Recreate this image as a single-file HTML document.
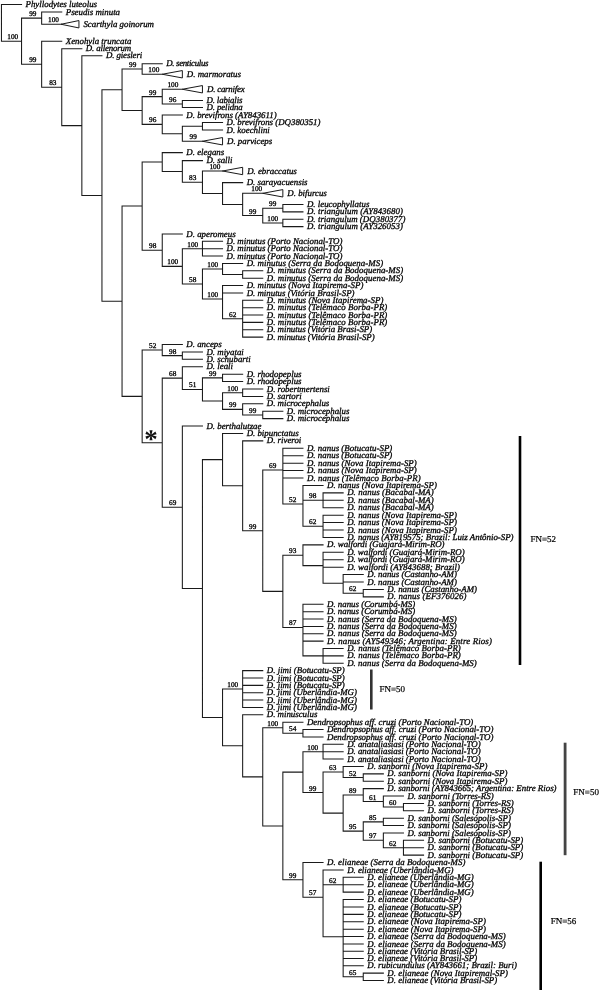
<!DOCTYPE html>
<html lang="en"><head><meta charset="utf-8"><title>Dendropsophus phylogeny</title>
<style>html,body{margin:0;padding:0;background:#fff}svg{display:block}text{text-rendering:geometricPrecision}.sp{font-family:"Liberation Serif","DejaVu Serif",serif;font-style:italic;font-size:8.85px;fill:#000;stroke:#000;stroke-width:.3px}.bs{font-family:"Liberation Serif","DejaVu Serif",serif;font-size:7.3px;fill:#000;stroke:#000;stroke-width:.3px;text-anchor:middle}.fn{font-family:"Liberation Serif","DejaVu Serif",serif;font-size:9px;fill:#000;stroke:#000;stroke-width:.2px}.ln{stroke:#1a1a1a;stroke-width:1.05;fill:none;stroke-linecap:square}.tr{stroke:#1a1a1a;stroke-width:1;fill:#fff;stroke-linejoin:miter}.ast{font-family:"Liberation Serif","DejaVu Serif",serif;font-weight:bold;font-size:27px;fill:#111}</style></head><body>
<svg width="600" height="990" viewBox="0 0 600 990">
<rect width="600" height="990" fill="#fff"/>
<path class="ln" d="M1.45 4.5L1.45 41.17M1.45 4.5L21.55 4.5M1.45 41.17L21.55 41.17M21.55 18.12L21.55 64.22M21.55 18.12L41.65 18.12M41.65 12L41.65 24.25M41.65 12L61.75 12M41.65 24.25L61.75 24.25M21.55 64.22L41.65 64.22M41.65 41.25L41.65 87.19M41.65 41.25L61.75 41.25M41.65 87.19L61.75 87.19M61.75 48.75L61.75 125.62M61.75 48.75L81.85 48.75M61.75 125.62L81.85 125.62M81.85 55.75L81.85 195.49M81.85 55.75L101.95 55.75M81.85 195.49L101.95 195.49M101.95 89.75L101.95 301.23M101.95 89.75L122.05 89.75M122.05 69L122.05 110.5M122.05 69L142.15 69M142.15 63.75L142.15 74.25M142.15 63.75L162.25 63.75M142.15 74.25L162.25 74.25M122.05 110.5L142.15 110.5M142.15 96.62L142.15 124.38M142.15 96.62L162.25 96.62M162.25 89.25L162.25 104M162.25 89.25L182.35 89.25M162.25 104L182.35 104M182.35 100.5L182.35 107.5M182.35 100.5L202.45 100.5M182.35 107.5L202.45 107.5M142.15 124.38L162.25 124.38M162.25 115L162.25 133.75M162.25 115L182.35 115M162.25 133.75L182.35 133.75M182.35 126.25L182.35 141.25M182.35 126.25L202.45 126.25M202.45 122.5L202.45 130M202.45 122.5L222.55 122.5M202.45 130L222.55 130M182.35 141.25L202.45 141.25M101.95 301.23L122.05 301.23M122.05 206.09L122.05 396.38M122.05 206.09L142.15 206.09M142.15 162.01L142.15 250.17M142.15 162.01L162.25 162.01M162.25 152.6L162.25 171.43M162.25 152.6L182.35 152.6M162.25 171.43L182.35 171.43M182.35 160.6L182.35 182.26M182.35 160.6L202.45 160.6M182.35 182.26L202.45 182.26M202.45 171L202.45 193.51M202.45 171L222.55 171M202.45 193.51L222.55 193.51M222.55 182.6L222.55 204.43M222.55 182.6L242.65 182.6M222.55 204.43L242.65 204.43M242.65 193.3L242.65 215.55M242.65 193.3L262.75 193.3M242.65 215.55L262.75 215.55M262.75 208.18L262.75 222.92M262.75 208.18L282.85 208.18M282.85 204.5L282.85 211.87M282.85 204.5L302.95 204.5M282.85 211.87L302.95 211.87M262.75 222.92L282.85 222.92M282.85 219.24L282.85 226.61M282.85 219.24L302.95 219.24M282.85 226.61L302.95 226.61M142.15 250.17L162.25 250.17M162.25 233.97L162.25 266.36M162.25 233.97L182.35 233.97M162.25 266.36L182.35 266.36M182.35 248.71L182.35 284.02M182.35 248.71L202.45 248.71M202.45 241.34L202.45 256.08M202.45 241.34L222.55 241.34M202.45 248.71L222.55 248.71M202.45 256.08L222.55 256.08M182.35 284.02L202.45 284.02M202.45 268.97L202.45 299.06M202.45 268.97L222.55 268.97M222.55 263.45L222.55 274.5M222.55 263.45L242.65 263.45M222.55 274.5L242.65 274.5M242.65 270.82L242.65 278.18M242.65 270.82L262.75 270.82M242.65 278.18L262.75 278.18M202.45 299.06L222.55 299.06M222.55 285.55L222.55 318.71M222.55 285.55L242.65 285.55M222.55 292.92L242.65 292.92M222.55 318.71L242.65 318.71M242.65 300.29L242.65 337.13M242.65 300.29L262.75 300.29M242.65 307.66L262.75 307.66M242.65 315.03L262.75 315.03M242.65 322.39L262.75 322.39M242.65 329.76L262.75 329.76M242.65 337.13L262.75 337.13M122.05 396.38L142.15 396.38M142.15 350.06L142.15 442.69M142.15 350.06L162.25 350.06M162.25 344.5L162.25 355.62M162.25 344.5L182.35 344.5M162.25 355.62L182.35 355.62M182.35 351.91L182.35 359.33M182.35 351.91L202.45 351.91M182.35 359.33L202.45 359.33M142.15 442.69L162.25 442.69M162.25 378.1L162.25 507.29M162.25 378.1L182.35 378.1M182.35 366.74L182.35 389.45M182.35 366.74L202.45 366.74M182.35 389.45L202.45 389.45M202.45 377.86L202.45 401.03M202.45 377.86L222.55 377.86M222.55 374.16L222.55 381.57M222.55 374.16L242.65 374.16M222.55 381.57L242.65 381.57M202.45 401.03L222.55 401.03M222.55 392.69L222.55 409.38M222.55 392.69L242.65 392.69M242.65 388.99L242.65 396.4M242.65 388.99L262.75 388.99M242.65 396.4L262.75 396.4M222.55 409.38L242.65 409.38M242.65 403.81L242.65 414.94M242.65 403.81L262.75 403.81M242.65 414.94L262.75 414.94M262.75 411.23L262.75 418.64M262.75 411.23L282.85 411.23M262.75 418.64L282.85 418.64M162.25 507.29L182.35 507.29M182.35 426.06L182.35 588.53M182.35 426.06L202.45 426.06M182.35 588.53L202.45 588.53M202.45 459.62L202.45 717.44M202.45 459.62L222.55 459.62M222.55 433.47L222.55 485.77M222.55 433.47L242.65 433.47M222.55 485.77L242.65 485.77M242.65 440.89L242.65 530.66M242.65 440.89L262.75 440.89M242.65 530.66L262.75 530.66M262.75 469.97L262.75 591.35M262.75 469.97L282.85 469.97M282.85 448.3L282.85 504.01M282.85 448.3L302.95 448.3M282.85 455.73L302.95 455.73M282.85 463.16L302.95 463.16M282.85 470.59L302.95 470.59M282.85 478.01L302.95 478.01M282.85 504.01L302.95 504.01M302.95 485.44L302.95 526.3M302.95 485.44L323.05 485.44M302.95 500.3L323.05 500.3M323.05 492.87L323.05 507.73M323.05 492.87L343.15 492.87M323.05 500.3L343.15 500.3M323.05 507.73L343.15 507.73M302.95 526.3L323.05 526.3M323.05 515.16L323.05 537.44M323.05 515.16L343.15 515.16M323.05 522.59L343.15 522.59M323.05 530.01L343.15 530.01M323.05 537.44L343.15 537.44M262.75 591.35L282.85 591.35M282.85 555.24L282.85 627.46M282.85 555.24L302.95 555.24M302.95 544.87L302.95 565.61M302.95 544.87L323.05 544.87M302.95 565.61L323.05 565.61M323.05 552.3L323.05 583.25M323.05 552.3L343.15 552.3M323.05 559.73L343.15 559.73M323.05 567.16L343.15 567.16M323.05 583.25L343.15 583.25M343.15 574.59L343.15 593.16M343.15 574.59L363.25 574.59M343.15 582.01L363.25 582.01M343.15 593.16L363.25 593.16M363.25 589.44L363.25 596.87M363.25 589.44L383.35 589.44M363.25 596.87L383.35 596.87M282.85 627.46L302.95 627.46M302.95 604.3L302.95 655.88M302.95 604.3L323.05 604.3M302.95 611.67L323.05 611.67M302.95 619.04L323.05 619.04M302.95 626.41L323.05 626.41M302.95 633.77L323.05 633.77M302.95 641.14L323.05 641.14M302.95 655.88L323.05 655.88M323.05 648.51L323.05 663.25M323.05 648.51L343.15 648.51M323.05 655.88L343.15 655.88M323.05 663.25L343.15 663.25M202.45 717.44L222.55 717.44M222.55 689.04L222.55 745.84M222.55 689.04L242.65 689.04M242.65 670.62L242.65 707.46M242.65 670.62L262.75 670.62M242.65 677.98L262.75 677.98M242.65 685.35L262.75 685.35M242.65 692.72L262.75 692.72M242.65 700.09L262.75 700.09M242.65 707.46L262.75 707.46M222.55 745.84L242.65 745.84M242.65 714.83L242.65 776.85M242.65 714.83L262.75 714.83M242.65 776.85L262.75 776.85M262.75 727.72L262.75 825.97M262.75 727.72L282.85 727.72M282.85 722.19L282.85 733.25M282.85 722.19L302.95 722.19M282.85 733.25L302.95 733.25M302.95 729.56L302.95 736.93M302.95 729.56L323.05 729.56M302.95 736.93L323.05 736.93M262.75 825.97L282.85 825.97M282.85 772.12L282.85 879.82M282.85 772.12L302.95 772.12M302.95 751.69L302.95 792.55M302.95 751.69L323.05 751.69M323.05 744.3L323.05 759.07M323.05 744.3L343.15 744.3M323.05 751.69L343.15 751.69M323.05 759.07L343.15 759.07M302.95 792.55L323.05 792.55M323.05 772L323.05 813.1M323.05 772L343.15 772M343.15 766.46L343.15 777.54M343.15 766.46L363.25 766.46M343.15 777.54L363.25 777.54M363.25 773.85L363.25 781.24M363.25 773.85L383.35 773.85M363.25 781.24L383.35 781.24M323.05 813.1L343.15 813.1M343.15 795.09L343.15 831.1M343.15 795.09L363.25 795.09M363.25 788.62L363.25 801.55M363.25 788.62L383.35 788.62M363.25 801.55L383.35 801.55M383.35 796.01L383.35 807.09M383.35 796.01L403.45 796.01M383.35 807.09L403.45 807.09M403.45 803.4L403.45 810.79M403.45 803.4L423.55 803.4M403.45 810.79L423.55 810.79M343.15 831.1L363.25 831.1M363.25 821.87L363.25 840.34M363.25 821.87L383.35 821.87M383.35 818.17L383.35 825.56M383.35 818.17L403.45 818.17M383.35 825.56L403.45 825.56M363.25 840.34L383.35 840.34M383.35 832.95L383.35 847.73M383.35 832.95L403.45 832.95M383.35 847.73L403.45 847.73M403.45 840.34L403.45 855.11M403.45 840.34L423.55 840.34M403.45 847.73L423.55 847.73M403.45 855.11L423.55 855.11M282.85 879.82L302.95 879.82M302.95 862.5L302.95 897.15M302.95 862.5L323.05 862.5M302.95 897.15L323.05 897.15M323.05 869.91L323.05 936.8M323.05 869.91L343.15 869.91M323.05 884.73L343.15 884.73M343.15 877.32L343.15 892.14M343.15 877.32L363.25 877.32M343.15 884.73L363.25 884.73M343.15 892.14L363.25 892.14M323.05 936.8L343.15 936.8M343.15 899.55L343.15 976.76M343.15 899.55L363.25 899.55M343.15 906.95L363.25 906.95M343.15 914.36L363.25 914.36M343.15 921.77L363.25 921.77M343.15 929.18L363.25 929.18M343.15 936.59L363.25 936.59M343.15 944L363.25 944M343.15 951.28L363.25 951.28M343.15 958.56L363.25 958.56M343.15 965.84L363.25 965.84M343.15 976.76L363.25 976.76M363.25 973.12L363.25 980.4M363.25 973.12L383.35 973.12M363.25 980.4L383.35 980.4"/>
<path class="tr" d="M61.05 24.25L78.95 20.55L78.95 27.95Z"/>
<path class="tr" d="M162.25 74.25L182.35 70.55L182.35 77.95Z"/>
<path class="tr" d="M182.35 89.25L202.45 85.55L202.45 92.95Z"/>
<path class="tr" d="M202.45 141.25L222.55 137.55L222.55 144.95Z"/>
<path class="tr" d="M222.55 171L242.65 167.3L242.65 174.7Z"/>
<path class="tr" d="M262.75 193.3L282.85 189.6L282.85 197Z"/>
<rect x="518.7" y="436" width="2.6" height="229" fill="#000"/>
<rect x="370" y="669.5" width="2.6" height="40" fill="#333"/>
<rect x="563.7" y="742.7" width="2.8" height="112.5" fill="#444"/>
<rect x="539.4" y="861.7" width="2.6" height="128.3" fill="#000"/>
<text class="fn" x="530.5" y="541.7">FN=52</text>
<text class="fn" x="379.5" y="692">FN=50</text>
<text class="fn" x="573.3" y="795">FN=50</text>
<text class="fn" x="550.7" y="924">FN=56</text>
<text class="bs" x="12.79" y="39.17">100</text>
<text class="bs" x="32.79" y="16.12">99</text>
<text class="bs" x="53.55" y="22.35">100</text>
<text class="bs" x="32.79" y="62.22">99</text>
<text class="bs" x="52.79" y="85.19">83</text>
<text class="bs" x="132.76" y="67">99</text>
<text class="bs" x="153.85" y="72.35">100</text>
<text class="bs" x="152.76" y="94.62">99</text>
<text class="bs" x="172.95" y="87.35">100</text>
<text class="bs" x="172.75" y="102">96</text>
<text class="bs" x="152.76" y="122.38">96</text>
<text class="bs" x="193.25" y="139.35">99</text>
<text class="bs" x="192.75" y="180.26">83</text>
<text class="bs" x="214.95" y="169.1">100</text>
<text class="bs" x="256.75" y="191.4">100</text>
<text class="bs" x="252.73" y="213.55">99</text>
<text class="bs" x="272.73" y="206.18">99</text>
<text class="bs" x="272.73" y="220.92">100</text>
<text class="bs" x="152.76" y="248.17">98</text>
<text class="bs" x="172.75" y="264.36">100</text>
<text class="bs" x="192.75" y="246.71">100</text>
<text class="bs" x="192.75" y="282.02">58</text>
<text class="bs" x="212.75" y="266.97">100</text>
<text class="bs" x="212.75" y="297.06">100</text>
<text class="bs" x="232.74" y="316.71">62</text>
<text class="bs" x="152.76" y="348.06">52</text>
<text class="bs" x="172.75" y="353.62">98</text>
<text class="bs" x="172.75" y="376.1">68</text>
<text class="bs" x="192.75" y="387.45">51</text>
<text class="bs" x="212.75" y="375.86">99</text>
<text class="bs" x="232.74" y="390.69">100</text>
<text class="bs" x="232.74" y="407.38">99</text>
<text class="bs" x="252.73" y="412.94">99</text>
<text class="bs" x="172.75" y="505.29">69</text>
<text class="bs" x="252.73" y="528.66">99</text>
<text class="bs" x="272.73" y="467.97">69</text>
<text class="bs" x="292.73" y="502.01">52</text>
<text class="bs" x="312.72" y="498.3">98</text>
<text class="bs" x="312.72" y="524.3">62</text>
<text class="bs" x="292.73" y="553.24">93</text>
<text class="bs" x="352.71" y="591.16">62</text>
<text class="bs" x="292.73" y="625.46">87</text>
<text class="bs" x="232.74" y="687.04">100</text>
<text class="bs" x="272.73" y="725.72">100</text>
<text class="bs" x="292.73" y="731.25">54</text>
<text class="bs" x="312.72" y="749.69">100</text>
<text class="bs" x="312.72" y="790.55">99</text>
<text class="bs" x="332.72" y="770">63</text>
<text class="bs" x="352.71" y="775.54">52</text>
<text class="bs" x="352.71" y="793.09">89</text>
<text class="bs" x="372.71" y="799.55">61</text>
<text class="bs" x="392.7" y="805.09">60</text>
<text class="bs" x="352.71" y="829.1">95</text>
<text class="bs" x="372.71" y="819.87">85</text>
<text class="bs" x="372.71" y="838.34">97</text>
<text class="bs" x="392.7" y="845.73">62</text>
<text class="bs" x="292.73" y="877.82">99</text>
<text class="bs" x="312.72" y="895.15">57</text>
<text class="bs" x="332.72" y="882.73">62</text>
<text class="bs" x="352.71" y="974.76">65</text>
<text class="sp" x="25.55" y="7.1">Phyllodytes luteolus</text>
<text class="sp" x="65.75" y="14.6">Pseudis minuta</text>
<text class="sp" x="83.45" y="26.85">Scarthyla goinorum</text>
<text class="sp" x="65.75" y="43.85">Xenohyla truncata</text>
<text class="sp" x="85.85" y="51.35" textLength="45.3">D. allenorum</text>
<text class="sp" x="105.95" y="58.35" textLength="36.3">D. giesleri</text>
<text class="sp" x="166.25" y="66.35" textLength="42.2">D. senticulus</text>
<text class="sp" x="186.85" y="76.85">D. marmoratus</text>
<text class="sp" x="206.95" y="91.85" textLength="37.8">D. carnifex</text>
<text class="sp" x="206.45" y="103.1" textLength="36">D. labialis</text>
<text class="sp" x="206.45" y="110.1" textLength="36.3">D. pelidna</text>
<text class="sp" x="186.35" y="117.6">D. brevifrons (AY843611)</text>
<text class="sp" x="226.55" y="125.1">D. brevifrons (DQ380351)</text>
<text class="sp" x="226.55" y="132.6">D. koechlini</text>
<text class="sp" x="227.05" y="143.85">D. parviceps</text>
<text class="sp" x="186.35" y="155.2">D. elegans</text>
<text class="sp" x="206.45" y="163.2">D. salli</text>
<text class="sp" x="247.15" y="173.6">D. ebraccatus</text>
<text class="sp" x="246.65" y="185.2">D. sarayacuensis</text>
<text class="sp" x="287.35" y="195.9">D. bifurcus</text>
<text class="sp" x="306.95" y="207.1">D. leucophyllatus</text>
<text class="sp" x="306.95" y="214.47" style="letter-spacing:0.065px">D. triangulum (AY843680)</text>
<text class="sp" x="306.95" y="221.84" style="letter-spacing:0.043px">D. triangulum (DQ380377)</text>
<text class="sp" x="306.95" y="229.21" style="letter-spacing:0.065px">D. triangulum (AY326053)</text>
<text class="sp" x="186.35" y="236.57">D. aperomeus</text>
<text class="sp" x="226.55" y="243.94">D. minutus (Porto Nacional-TO)</text>
<text class="sp" x="226.55" y="251.31">D. minutus (Porto Nacional-TO)</text>
<text class="sp" x="226.55" y="258.68">D. minutus (Porto Nacional-TO)</text>
<text class="sp" x="246.65" y="266.05" style="letter-spacing:0.048px">D. minutus (Serra da Bodoquena-MS)</text>
<text class="sp" x="266.75" y="273.42" style="letter-spacing:0.048px">D. minutus (Serra da Bodoquena-MS)</text>
<text class="sp" x="266.75" y="280.78" style="letter-spacing:0.048px">D. minutus (Serra da Bodoquena-MS)</text>
<text class="sp" x="246.65" y="288.15" style="letter-spacing:0.055px">D. minutus (Nova Itapirema-SP)</text>
<text class="sp" x="246.65" y="295.52">D. minutus (Vitória Brasil-SP)</text>
<text class="sp" x="266.75" y="302.89" style="letter-spacing:0.055px">D. minutus (Nova Itapirema-SP)</text>
<text class="sp" x="266.75" y="310.26" style="letter-spacing:0.069px">D. minutus (Telêmaco Borba-PR)</text>
<text class="sp" x="266.75" y="317.63" style="letter-spacing:0.069px">D. minutus (Telêmaco Borba-PR)</text>
<text class="sp" x="266.75" y="324.99" style="letter-spacing:0.069px">D. minutus (Telêmaco Borba-PR)</text>
<text class="sp" x="266.75" y="332.36">D. minutus (Vitória Brasi-SP)</text>
<text class="sp" x="266.75" y="339.73">D. minutus (Vitória Brasil-SP)</text>
<text class="sp" x="186.35" y="347.1">D. anceps</text>
<text class="sp" x="206.45" y="354.51">D. miyatai</text>
<text class="sp" x="206.45" y="361.93">D. schubarti</text>
<text class="sp" x="206.45" y="369.34">D. leali</text>
<text class="sp" x="246.65" y="376.76">D. rhodopeplus</text>
<text class="sp" x="246.65" y="384.17">D. rhodopeplus</text>
<text class="sp" x="266.75" y="391.59">D. robertmertensi</text>
<text class="sp" x="266.75" y="399">D. sartori</text>
<text class="sp" x="266.75" y="406.41">D. microcephalus</text>
<text class="sp" x="286.85" y="413.83">D. microcephalus</text>
<text class="sp" x="286.85" y="421.24">D. microcephalus</text>
<text class="sp" x="206.45" y="428.66">D. berthalutzae</text>
<text class="sp" x="246.65" y="436.07">D. bipunctatus</text>
<text class="sp" x="266.75" y="443.49">D. riveroi</text>
<text class="sp" x="306.95" y="450.9" style="letter-spacing:0.029px">D. nanus (Botucatu-SP)</text>
<text class="sp" x="306.95" y="458.33" style="letter-spacing:0.029px">D. nanus (Botucatu-SP)</text>
<text class="sp" x="306.95" y="465.76" style="letter-spacing:0.059px">D. nanus (Nova Itapirema-SP)</text>
<text class="sp" x="306.95" y="473.19" style="letter-spacing:0.059px">D. nanus (Nova Itapirema-SP)</text>
<text class="sp" x="306.95" y="480.61" style="letter-spacing:0.074px">D. nanus (Telêmaco Borba-PR)</text>
<text class="sp" x="327.05" y="488.04" style="letter-spacing:0.059px">D. nanus (Nova Itapirema-SP)</text>
<text class="sp" x="347.15" y="495.47" style="letter-spacing:0.070px">D. nanus (Bacabal-MA)</text>
<text class="sp" x="347.15" y="502.9" style="letter-spacing:0.070px">D. nanus (Bacabal-MA)</text>
<text class="sp" x="347.15" y="510.33" style="letter-spacing:0.070px">D. nanus (Bacabal-MA)</text>
<text class="sp" x="347.15" y="517.76" style="letter-spacing:0.059px">D. nanus (Nova Itapirema-SP)</text>
<text class="sp" x="347.15" y="525.19" style="letter-spacing:0.059px">D. nanus (Nova Itapirema-SP)</text>
<text class="sp" x="347.15" y="532.61" style="letter-spacing:0.059px">D. nanus (Nova Itapirema-SP)</text>
<text class="sp" x="347.15" y="540.04">D. nanus (AY819575; Brazil: Luiz Antônio-SP)</text>
<text class="sp" x="327.05" y="547.47" style="letter-spacing:-0.028px">D. walfordi (Guajará-Mirim-RO)</text>
<text class="sp" x="347.15" y="554.9" style="letter-spacing:-0.028px">D. walfordi (Guajará-Mirim-RO)</text>
<text class="sp" x="347.15" y="562.33" style="letter-spacing:-0.028px">D. walfordi (Guajará-Mirim-RO)</text>
<text class="sp" x="347.15" y="569.76" style="letter-spacing:0.034px">D. walfordi (AY843688; Brazil)</text>
<text class="sp" x="367.25" y="577.19">D. nanus (Castanho-AM)</text>
<text class="sp" x="367.25" y="584.61">D. nanus (Castanho-AM)</text>
<text class="sp" x="387.35" y="592.04">D. nanus (Castanho-AM)</text>
<text class="sp" x="387.35" y="599.47" style="letter-spacing:0.100px">D. nanus (EF376026)</text>
<text class="sp" x="327.05" y="606.9">D. nanus (Corumbá-MS)</text>
<text class="sp" x="327.05" y="614.27">D. nanus (Corumbá-MS)</text>
<text class="sp" x="327.05" y="621.64" style="letter-spacing:0.052px">D. nanus (Serra da Bodoquena-MS)</text>
<text class="sp" x="327.05" y="629.01" style="letter-spacing:0.052px">D. nanus (Serra da Bodoquena-MS)</text>
<text class="sp" x="327.05" y="636.37" style="letter-spacing:0.052px">D. nanus (Serra da Bodoquena-MS)</text>
<text class="sp" x="327.05" y="643.74" style="letter-spacing:0.146px">D. nanus (AY549346; Argentina: Entre Rios)</text>
<text class="sp" x="347.15" y="651.11" style="letter-spacing:0.074px">D. nanus (Telêmaco Borba-PR)</text>
<text class="sp" x="347.15" y="658.48" style="letter-spacing:0.074px">D. nanus (Telêmaco Borba-PR)</text>
<text class="sp" x="347.15" y="665.85" style="letter-spacing:0.052px">D. nanus (Serra da Bodoquena-MS)</text>
<text class="sp" x="266.75" y="673.22" style="letter-spacing:0.030px">D. jimi (Botucatu-SP)</text>
<text class="sp" x="266.75" y="680.58" style="letter-spacing:0.030px">D. jimi (Botucatu-SP)</text>
<text class="sp" x="266.75" y="687.95" style="letter-spacing:0.030px">D. jimi (Botucatu-SP)</text>
<text class="sp" x="266.75" y="695.32">D. jimi (Uberlândia-MG)</text>
<text class="sp" x="266.75" y="702.69">D. jimi (Uberlândia-MG)</text>
<text class="sp" x="266.75" y="710.06">D. jimi (Uberlândia-MG)</text>
<text class="sp" x="266.75" y="717.43">D. minusculus</text>
<text class="sp" x="306.95" y="724.79">Dendropsophus aff. cruzi (Porto Nacional-TO)</text>
<text class="sp" x="327.05" y="732.16">Dendropsophus aff. cruzi (Porto Nacional-TO)</text>
<text class="sp" x="327.05" y="739.53">Dendropsophus aff. cruzi (Porto Nacional-TO)</text>
<text class="sp" x="347.15" y="746.9">D. anataliasiasi (Porto Nacional-TO)</text>
<text class="sp" x="347.15" y="754.29">D. anataliasiasi (Porto Nacional-TO)</text>
<text class="sp" x="347.15" y="761.67">D. anataliasiasi (Porto Nacional-TO)</text>
<text class="sp" x="367.25" y="769.06" style="letter-spacing:0.053px">D. sanborni (Nova Itapirema-SP)</text>
<text class="sp" x="387.35" y="776.45" style="letter-spacing:0.053px">D. sanborni (Nova Itapirema-SP)</text>
<text class="sp" x="387.35" y="783.84" style="letter-spacing:0.053px">D. sanborni (Nova Itapirema-SP)</text>
<text class="sp" x="387.35" y="791.23">D. sanborni (AY843665; Argentina: Entre Rios)</text>
<text class="sp" x="407.45" y="798.61" style="letter-spacing:0.027px">D. sanborni (Torres-RS)</text>
<text class="sp" x="427.55" y="806" style="letter-spacing:0.027px">D. sanborni (Torres-RS)</text>
<text class="sp" x="427.55" y="813.39" style="letter-spacing:0.027px">D. sanborni (Torres-RS)</text>
<text class="sp" x="407.45" y="820.77">D. sanborni (Salesópolis-SP)</text>
<text class="sp" x="407.45" y="828.16">D. sanborni (Salesópolis-SP)</text>
<text class="sp" x="407.45" y="835.55">D. sanborni (Salesópolis-SP)</text>
<text class="sp" x="427.55" y="842.94" style="letter-spacing:0.025px">D. sanborni (Botucatu-SP)</text>
<text class="sp" x="427.55" y="850.33" style="letter-spacing:0.025px">D. sanborni (Botucatu-SP)</text>
<text class="sp" x="427.55" y="857.71" style="letter-spacing:0.025px">D. sanborni (Botucatu-SP)</text>
<text class="sp" x="327.05" y="865.1" style="letter-spacing:0.047px">D. elianeae (Serra da Bodoquena-MS)</text>
<text class="sp" x="347.15" y="872.51">D. elianeae (Uberlândia-MG)</text>
<text class="sp" x="367.25" y="879.92">D. elianeae (Uberlândia-MG)</text>
<text class="sp" x="367.25" y="887.33">D. elianeae (Uberlândia-MG)</text>
<text class="sp" x="367.25" y="894.74">D. elianeae (Uberlândia-MG)</text>
<text class="sp" x="367.25" y="902.15" style="letter-spacing:0.025px">D. elianeae (Botucatu-SP)</text>
<text class="sp" x="367.25" y="909.55" style="letter-spacing:0.025px">D. elianeae (Botucatu-SP)</text>
<text class="sp" x="367.25" y="916.96" style="letter-spacing:0.025px">D. elianeae (Botucatu-SP)</text>
<text class="sp" x="367.25" y="924.37" style="letter-spacing:0.053px">D. elianeae (Nova Itapirema-SP)</text>
<text class="sp" x="367.25" y="931.78" style="letter-spacing:0.053px">D. elianeae (Nova Itapirema-SP)</text>
<text class="sp" x="367.25" y="939.19" style="letter-spacing:0.047px">D. elianeae (Serra da Bodoquena-MS)</text>
<text class="sp" x="367.25" y="946.6" style="letter-spacing:0.047px">D. elianeae (Serra da Bodoquena-MS)</text>
<text class="sp" x="367.25" y="953.88">D. elianeae (Vitória Brasil-SP)</text>
<text class="sp" x="367.25" y="961.16">D. elianeae (Vitória Brasil-SP)</text>
<text class="sp" x="367.25" y="968.44">D. rubicundulus (AY843661; Brazil: Buri)</text>
<text class="sp" x="387.35" y="975.72" style="letter-spacing:0.035px">D. elianeae (Nova Itapiremal-SP)</text>
<text class="sp" x="387.35" y="983">D. elianeae (Vitória Brasil-SP)</text>
<text class="ast" x="144.35" y="448.29">*</text>
</svg></body></html>
